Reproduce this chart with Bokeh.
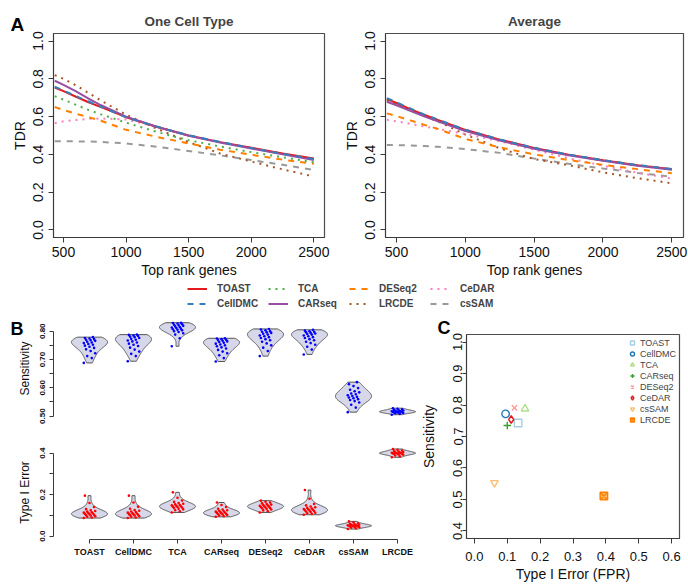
import numpy as np
from bokeh.plotting import figure
from bokeh.models import (Range1d, FixedTicker, PrintfTickFormatter, Legend,
                          LegendItem, Label)
from bokeh.layouts import row, column
from bokeh.embed import file_html
from bokeh.resources import INLINE

FONT = "Liberation Sans"

# ---------------- Panel A data ----------------
RANKS = [430, 500, 600, 700, 800, 1000, 1250, 1500, 1750, 2000, 2250, 2500]

ONE_TOAST   = [0.754, 0.735, 0.705, 0.676, 0.650, 0.597, 0.545, 0.500, 0.465, 0.435, 0.405, 0.378]
ONE_CELLDMC = [0.758, 0.738, 0.708, 0.680, 0.652, 0.596, 0.546, 0.501, 0.466, 0.434, 0.403, 0.375]
ONE_TCA     = [0.708, 0.690, 0.662, 0.635, 0.612, 0.568, 0.518, 0.475, 0.442, 0.412, 0.385, 0.358]
ONE_CARSEQ  = [0.790, 0.768, 0.733, 0.695, 0.660, 0.600, 0.545, 0.499, 0.463, 0.431, 0.400, 0.370]
ONE_DESEQ2  = [0.651, 0.635, 0.615, 0.597, 0.578, 0.530, 0.492, 0.458, 0.425, 0.398, 0.372, 0.350]
ONE_LRCDE   = [0.820, 0.800, 0.765, 0.725, 0.685, 0.610, 0.535, 0.465, 0.405, 0.362, 0.321, 0.283]
ONE_CEDAR   = [0.565, 0.575, 0.582, 0.588, 0.590, 0.585, 0.545, 0.500, 0.465, 0.434, 0.404, 0.376]
ONE_CSSAM   = [0.470, 0.470, 0.469, 0.468, 0.466, 0.458, 0.440, 0.418, 0.395, 0.370, 0.345, 0.318]

AVG_TOAST   = [0.693, 0.672, 0.640, 0.610, 0.582, 0.530, 0.478, 0.434, 0.398, 0.369, 0.343, 0.322]
AVG_CELLDMC = [0.698, 0.676, 0.643, 0.612, 0.584, 0.531, 0.479, 0.435, 0.399, 0.370, 0.344, 0.323]
AVG_TCA     = [0.690, 0.669, 0.637, 0.607, 0.580, 0.528, 0.476, 0.432, 0.397, 0.368, 0.342, 0.321]
AVG_CARSEQ  = [0.679, 0.660, 0.630, 0.601, 0.575, 0.524, 0.473, 0.430, 0.395, 0.366, 0.340, 0.319]
AVG_DESEQ2  = [0.617, 0.603, 0.580, 0.557, 0.535, 0.482, 0.437, 0.400, 0.370, 0.345, 0.322, 0.300]
AVG_LRCDE   = [0.685, 0.665, 0.634, 0.604, 0.575, 0.505, 0.432, 0.375, 0.343, 0.305, 0.274, 0.247]
AVG_CEDAR   = [0.583, 0.575, 0.562, 0.548, 0.535, 0.508, 0.470, 0.425, 0.380, 0.340, 0.303, 0.272]
AVG_CSSAM   = [0.450, 0.449, 0.447, 0.444, 0.440, 0.428, 0.408, 0.378, 0.350, 0.325, 0.302, 0.282]

A_METHODS = ["TOAST", "CellDMC", "TCA", "CARseq", "DESeq2", "LRCDE", "CeDAR", "csSAM"]
A_COLORS = ["#E41A1C", "#377EB8", "#4DAF4A", "#984EA3", "#FF7F00", "#A65628", "#F781BF", "#999999"]
A_DASH = ["solid", "6 6", "2 5", "solid", "6 6", "2 5", "2 5", "6 6"]
ONE_SERIES = [ONE_TOAST, ONE_CELLDMC, ONE_TCA, ONE_CARSEQ, ONE_DESEQ2, ONE_LRCDE, ONE_CEDAR, ONE_CSSAM]
AVG_SERIES = [AVG_TOAST, AVG_CELLDMC, AVG_TCA, AVG_CARSEQ, AVG_DESEQ2, AVG_LRCDE, AVG_CEDAR, AVG_CSSAM]
DRAW_ORDER = [7, 5, 6, 4, 2, 0, 3, 1]

# ---------------- Panel B data ----------------
B_METHODS = ["TOAST", "CellDMC", "TCA", "CARseq", "DESeq2", "CeDAR", "csSAM", "LRCDE"]

SENS_TOAST   = [0.688, 0.705, 0.712, 0.722, 0.730, 0.736, 0.741, 0.745, 0.749, 0.752, 0.755,
                0.758, 0.760, 0.763, 0.766, 0.768, 0.770, 0.772, 0.774, 0.776, 0.779]
SENS_CELLDMC = [0.694, 0.712, 0.720, 0.728, 0.735, 0.742, 0.748, 0.752, 0.756, 0.760, 0.764,
                0.767, 0.770, 0.773, 0.776, 0.779, 0.781, 0.783, 0.785, 0.787, 0.788]
SENS_TCA     = [0.747, 0.775, 0.788, 0.793, 0.797, 0.800, 0.803, 0.805, 0.807, 0.809, 0.811,
                0.813, 0.815, 0.817, 0.819, 0.821, 0.823, 0.825, 0.827, 0.829, 0.830]
SENS_CARSEQ  = [0.693, 0.705, 0.715, 0.722, 0.728, 0.734, 0.739, 0.743, 0.747, 0.750, 0.753,
                0.756, 0.759, 0.762, 0.764, 0.766, 0.768, 0.770, 0.772, 0.774, 0.775]
SENS_DESEQ2  = [0.712, 0.730, 0.742, 0.750, 0.757, 0.763, 0.768, 0.772, 0.776, 0.779, 0.782,
                0.785, 0.788, 0.791, 0.794, 0.796, 0.798, 0.800, 0.803, 0.806, 0.808]
SENS_CEDAR   = [0.718, 0.735, 0.745, 0.752, 0.758, 0.763, 0.768, 0.772, 0.776, 0.779, 0.782,
                0.785, 0.788, 0.790, 0.792, 0.794, 0.796, 0.798, 0.800, 0.802, 0.805]
SENS_CSSAM   = [0.514, 0.530, 0.540, 0.548, 0.553, 0.557, 0.560, 0.563, 0.566, 0.568, 0.571,
                0.574, 0.577, 0.580, 0.584, 0.588, 0.593, 0.599, 0.606, 0.613, 0.620]
SENS_LRCDE   = [0.505, 0.508, 0.510, 0.511, 0.512, 0.513, 0.514, 0.514, 0.515, 0.516,
                0.516, 0.517, 0.518, 0.519, 0.520, 0.521, 0.522, 0.524, 0.526, 0.528]

T1_TOAST   = [0.087, 0.090, 0.093, 0.096, 0.099, 0.101, 0.103, 0.105, 0.107, 0.109,
              0.111, 0.113, 0.115, 0.118, 0.121, 0.125, 0.130, 0.140, 0.160, 0.195]
T1_CELLDMC = [0.087, 0.090, 0.093, 0.096, 0.099, 0.101, 0.103, 0.105, 0.107, 0.109,
              0.111, 0.113, 0.116, 0.119, 0.122, 0.126, 0.132, 0.142, 0.162, 0.195]
T1_TCA     = [0.114, 0.120, 0.125, 0.129, 0.132, 0.135, 0.138, 0.140, 0.142, 0.144,
              0.146, 0.148, 0.150, 0.153, 0.156, 0.160, 0.165, 0.172, 0.185, 0.211]
T1_CARSEQ  = [0.093, 0.096, 0.099, 0.102, 0.104, 0.106, 0.108, 0.110, 0.112, 0.114,
              0.116, 0.118, 0.120, 0.122, 0.125, 0.128, 0.132, 0.140, 0.150, 0.162]
T1_DESEQ2  = [0.114, 0.120, 0.124, 0.128, 0.131, 0.134, 0.136, 0.138, 0.140, 0.142,
              0.144, 0.146, 0.148, 0.150, 0.152, 0.155, 0.158, 0.162, 0.166, 0.171]
T1_CEDAR   = [0.103, 0.107, 0.110, 0.113, 0.116, 0.119, 0.121, 0.123, 0.125, 0.127,
              0.129, 0.131, 0.133, 0.136, 0.139, 0.143, 0.148, 0.155, 0.180, 0.222]
T1_CSSAM   = [0.034, 0.038, 0.041, 0.043, 0.045, 0.046, 0.047, 0.048, 0.049, 0.050,
              0.051, 0.052, 0.053, 0.054, 0.055, 0.057, 0.059, 0.062, 0.066, 0.071]
T1_LRCDE   = [0.380, 0.385, 0.389, 0.392, 0.394, 0.396, 0.397, 0.398, 0.399, 0.400,
              0.401, 0.402, 0.403, 0.404, 0.406, 0.408, 0.410, 0.413, 0.416, 0.420]

SENS_ALL = [SENS_TOAST, SENS_CELLDMC, SENS_TCA, SENS_CARSEQ, SENS_DESEQ2, SENS_CEDAR, SENS_CSSAM, SENS_LRCDE]
T1_ALL = [T1_TOAST, T1_CELLDMC, T1_TCA, T1_CARSEQ, T1_DESEQ2, T1_CEDAR, T1_CSSAM, T1_LRCDE]

SENS_TICKS = [0.5, 0.55, 0.6, 0.65, 0.7, 0.75, 0.8]
SENS_TICK_LABELS = ["0.50", "", "0.60", "", "0.70", "", "0.80"]
T1_TICKS = [0.0, 0.1, 0.2, 0.3, 0.4]
T1_TICK_LABELS = ["0.0", "", "0.2", "", "0.4"]

# ---------------- Panel C data ----------------
C_METHODS = ["TOAST", "CellDMC", "TCA", "CARseq", "DESeq2", "CeDAR", "csSAM", "LRCDE"]
C_FPR  = [0.133, 0.095, 0.154, 0.100, 0.122, 0.112, 0.061, 0.394]
C_SENS = [0.743, 0.772, 0.788, 0.735, 0.791, 0.754, 0.553, 0.511]
C_MARKERS = ["square", "circle", "triangle", "cross", "x", "diamond", "inverted_triangle", "square_x"]
C_COLORS = ["#A6CEE3", "#1F78B4", "#B2DF8A", "#33A02C", "#FB9A99", "#E31A1C", "#FDBF6F", "#FF7F00"]

AXIS_COL = "#3a3a3a"


def style_axis(ax, size, tick_out, standoff, label_size, label_standoff, bold=False, orient=None):
    ax.major_tick_out = tick_out
    ax.major_tick_in = 0
    ax.minor_tick_line_color = None
    ax.axis_line_color = AXIS_COL
    ax.major_tick_line_color = AXIS_COL
    ax.major_label_text_font = FONT
    ax.major_label_text_font_size = size
    ax.major_label_text_color = "#111111"
    ax.major_label_text_font_style = "bold" if bold else "normal"
    ax.major_label_standoff = standoff
    ax.axis_label_text_font = FONT
    ax.axis_label_text_font_size = label_size
    ax.axis_label_text_font_style = "normal"
    ax.axis_label_text_color = "#111111"
    ax.axis_label_standoff = label_standoff
    if orient is not None:
        ax.major_label_orientation = orient


def letter(text, x, y, size):
    # panel letter, placed in canvas pixels; put in a side panel so it is not clipped to the frame
    return Label(x=x, y=y, x_units="canvas", y_units="canvas", text=text,
                 text_font=FONT, text_font_size=size, text_font_style="bold",
                 text_color="#000000", text_baseline="alphabetic", text_align="left")


def make_tdr(title, width, left, right, series):
    p = figure(width=width, height=281, x_range=Range1d(420, 2585), y_range=Range1d(-0.04, 1.04),
               output_backend="svg", toolbar_location=None, title=title,
               min_border_left=left, min_border_right=right, min_border_top=33, min_border_bottom=44)
    p.title.align = "center"
    p.title.text_font = FONT
    p.title.text_font_size = "13.5px"
    p.title.text_font_style = "bold"
    p.title.standoff = 9
    p.grid.visible = False
    p.outline_line_color = "#4d4d4d"
    p.outline_line_width = 1.2
    for i in DRAW_ORDER:
        p.line(RANKS, series[i], line_color=A_COLORS[i], line_width=2, line_dash=A_DASH[i])
    p.xaxis.ticker = FixedTicker(ticks=[500, 1000, 1500, 2000, 2500])
    p.yaxis.ticker = FixedTicker(ticks=[0.0, 0.2, 0.4, 0.6, 0.8, 1.0])
    p.yaxis.formatter = PrintfTickFormatter(format="%.1f")
    p.xaxis.axis_label = "Top rank genes"
    p.yaxis.axis_label = "TDR"
    style_axis(p.xaxis[0], "14px", 5, 4, "14px", 2)
    style_axis(p.yaxis[0], "14px", 5, 5, "14px", 3, orient="vertical")
    return p


pA1 = make_tdr("One Cell Type", 338, 53, 14, ONE_SERIES)
pA2 = make_tdr("Average", 350, 47, 5, AVG_SERIES)
pA1.add_layout(letter("A", 10, 24, "19px"), "right")

# ---------------- legend strip ----------------
pL = figure(width=688, height=31, x_range=Range1d(0, 1), y_range=Range1d(0, 1),
            output_backend="svg", toolbar_location=None, min_border=0,
            x_axis_location=None, y_axis_location=None)
pL.grid.visible = False
pL.outline_line_color = None
items = []
for i, m in enumerate(A_METHODS):
    # same series as panel A, lying outside this strip's ranges: only the legend keys show
    r = pL.line(RANKS, ONE_SERIES[i], line_color=A_COLORS[i], line_width=2, line_dash=A_DASH[i])
    items.append(LegendItem(label=m, renderers=[r]))
leg = Legend(items=items, orientation="vertical", ncols=4, location=(187, 1),
             glyph_width=20, glyph_height=15, label_height=15, label_width=51,
             label_standoff=10, spacing=0, padding=0, margin=0,
             border_line_color=None, background_fill_alpha=0,
             label_text_font=FONT, label_text_font_size="10px", label_text_font_style="bold")
pL.add_layout(leg)


# ---------------- Panel B ----------------
def violin(vals, pos, half=0.41):
    v = np.asarray(vals, dtype=float)
    h = 1.06 * v.std(ddof=1) * len(v) ** -0.2
    grid = np.linspace(v.min(), v.max(), 80)
    d = np.exp(-0.5 * ((grid[:, None] - v[None, :]) / h) ** 2).sum(axis=1)
    d = d / d.max() * half
    xs = np.concatenate([pos - d, (pos + d)[::-1]])
    ys = np.concatenate([grid, grid[::-1]])
    return list(xs), list(ys)


def jitter(n, amp=0.13):
    return [((i * 7) % 11 - 5) / 5.0 * amp for i in range(n)]


def draw_violins(p, groups, dot_color):
    xs, ys = [], []
    for k, vals in enumerate(groups):
        vx, vy = violin(vals, k + 1)
        xs.append(vx)
        ys.append(vy)
    p.patches(xs=xs, ys=ys, fill_color="#D7D7EA", line_color="#555555", line_width=1)
    for k, vals in enumerate(groups):
        px = [k + 1 + o for o in jitter(len(vals))]
        p.scatter(px, vals, size=2.6, marker="circle", fill_color=dot_color, line_color=None)


B_W = 416
BX = Range1d(0.1818, 0.1818 + (B_W - 53) / 44.0)
pB1 = figure(width=B_W, height=126, x_range=BX, y_range=Range1d(0.4845, 0.852),
             output_backend="svg", toolbar_location=None, x_axis_location=None,
             min_border_left=53, min_border_right=0, min_border_top=4, min_border_bottom=18)
pB1.grid.visible = False
pB1.outline_line_color = None
draw_violins(pB1, SENS_ALL, "#0000FF")
pB1.yaxis.ticker = FixedTicker(ticks=SENS_TICKS)
pB1.yaxis.major_label_overrides = dict(zip(SENS_TICKS, SENS_TICK_LABELS))
pB1.yaxis.bounds = (SENS_TICKS[0], SENS_TICKS[-1])
pB1.yaxis.axis_label = "Sensitivity"
style_axis(pB1.yaxis[0], "8px", 4, 4, "12px", 6, bold=True, orient="vertical")
pB1.add_layout(letter("B", 10, 16, "18px"), "left")

pB2 = figure(width=B_W, height=147, x_range=BX, y_range=Range1d(-0.0164, 0.437),
             output_backend="svg", toolbar_location=None,
             min_border_left=53, min_border_right=0, min_border_top=7, min_border_bottom=46)
pB2.grid.visible = False
pB2.outline_line_color = None
draw_violins(pB2, T1_ALL, "#FF0000")
pB2.yaxis.ticker = FixedTicker(ticks=T1_TICKS)
pB2.yaxis.major_label_overrides = dict(zip(T1_TICKS, T1_TICK_LABELS))
pB2.yaxis.bounds = (T1_TICKS[0], T1_TICKS[-1])
pB2.yaxis.axis_label = "Type I Error"
style_axis(pB2.yaxis[0], "8px", 4, 4, "12px", 6, bold=True, orient="vertical")
B_POS = list(range(1, len(B_METHODS) + 1))
pB2.xaxis.ticker = FixedTicker(ticks=B_POS)
pB2.xaxis.major_label_overrides = dict(zip(B_POS, B_METHODS))
pB2.xaxis.bounds = (B_POS[0], B_POS[-1])
style_axis(pB2.xaxis[0], "9px", 4, 3, "9px", 0, bold=True)

# ---------------- Panel C ----------------
C_W = 688 - B_W
C_LEFT = 466 - B_W
pC = figure(width=C_W, height=273, x_range=Range1d(-0.024, 0.624), y_range=Range1d(0.376, 1.024),
            output_backend="svg", toolbar_location=None,
            min_border_left=C_LEFT, min_border_right=9, min_border_top=22, min_border_bottom=47)
pC.grid.visible = False
pC.outline_line_color = "#4d4d4d"
pC.outline_line_width = 1.2
for i, m in enumerate(C_METHODS):
    fill = "#FDBF6F" if m == "LRCDE" else None
    pC.scatter([C_FPR[i]], [C_SENS[i]], marker=C_MARKERS[i], size=7.5, line_color=C_COLORS[i],
               fill_color=fill, line_width=1.4, legend_label=m)
pC.xaxis.ticker = FixedTicker(ticks=[0.0, 0.1, 0.2, 0.3, 0.4, 0.5, 0.6])
pC.yaxis.ticker = FixedTicker(ticks=[0.4, 0.5, 0.6, 0.7, 0.8, 0.9, 1.0])
pC.xaxis.formatter = PrintfTickFormatter(format="%.1f")
pC.yaxis.formatter = PrintfTickFormatter(format="%.1f")
pC.xaxis.axis_label = "Type I Error (FPR)"
pC.yaxis.axis_label = "Sensitivity"
style_axis(pC.xaxis[0], "13px", 5, 8, "14px", 2)
style_axis(pC.yaxis[0], "13px", 4, 0, "14px", 14, orient="vertical")
lg = pC.legend[0]
lg.location = "top_right"
lg.border_line_color = None
lg.background_fill_alpha = 0
lg.label_text_font = FONT
lg.label_text_font_size = "9px"
lg.glyph_width = 10
lg.glyph_height = 11
lg.label_height = 11
lg.spacing = 0
lg.padding = 0
lg.margin = 3
lg.label_standoff = 3
pC.add_layout(letter("C", 437 - B_W, 15, "18px"), "above")

layout = column(row(pA1, pA2), pL, row(column(pB1, pB2), pC))

open("out.html", "w").write(file_html(layout, INLINE))
